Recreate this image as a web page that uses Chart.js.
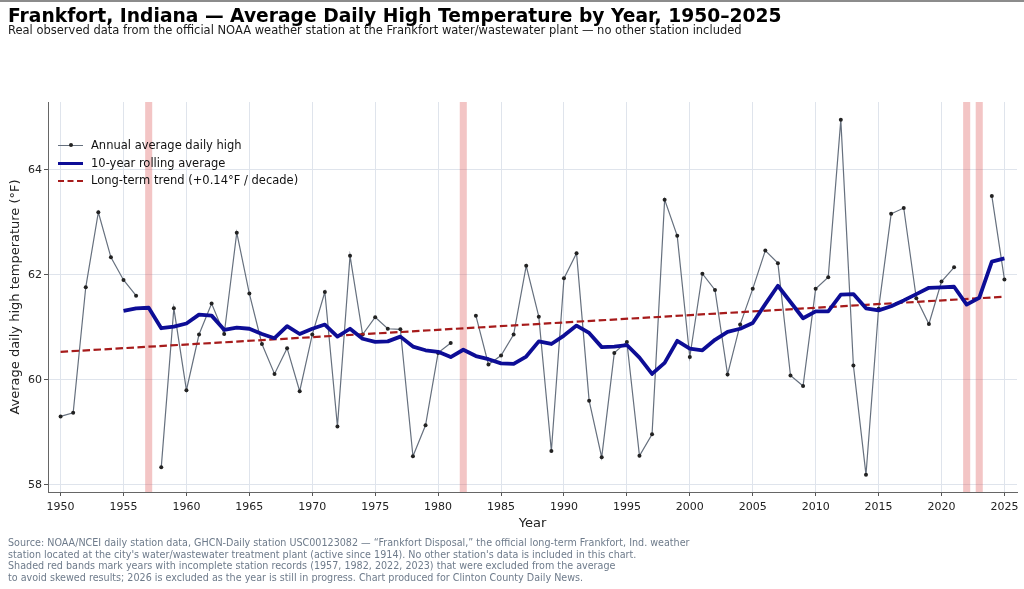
<!DOCTYPE html>
<html>
<head>
<meta charset="utf-8">
<script src="https://cdn.jsdelivr.net/npm/chart.js@4.4.1/dist/chart.umd.min.js"></script>
<style>
  html, body { margin: 0; padding: 0; background: #fff; }
  body { width: 1024px; height: 589px; position: relative; overflow: hidden; font-family: "DejaVu Sans", sans-serif; }
  #topline { position: absolute; left: 0; top: 0; width: 1024px; height: 2px; background: #8c8c8c; }
  #title { position: absolute; left: 8px; top: 5px; font-size: 18.7px; font-weight: bold; color: #000; white-space: nowrap; }
  #subtitle { position: absolute; left: 8px; top: 23px; font-size: 11.5px; color: #1a1a1a; white-space: nowrap; }
  #footer { position: absolute; left: 8px; top: 537px; font-size: 9.6px; line-height: 11.5px; color: #6e7b8b; white-space: nowrap; }
  #legend { position: absolute; left: 58px; top: 137px; font-size: 11.5px; color: #111; }
  .item { position: relative; height: 17.5px; line-height: 17px; padding-left: 33px; white-space: nowrap; }
  .sample { position: absolute; left: 0; top: 8px; width: 25px; }
  .s1 { border-top: 1.2px solid #66707e; }
  .s1 .dot { position: absolute; left: 11px; top: -3px; width: 4px; height: 4px; border-radius: 2px; background: #222; }
  .s2 { border-top: 3.8px solid #0d0d96; top: 7px; }
  .s3 { border-top: 2.2px dashed #a61b1b; }
  #chart { position: absolute; left: 0; top: 0; }
</style>
</head>
<body>
<div id="topline"></div>
<canvas id="chart" width="1024" height="589"></canvas>
<div id="title">Frankfort, Indiana — Average Daily High Temperature by Year, 1950–2025</div>
<div id="subtitle">Real observed data from the official NOAA weather station at the Frankfort water/wastewater plant — no other station included</div>
<div id="legend">
  <div class="item"><span class="sample s1"><span class="dot"></span></span>Annual average daily high</div>
  <div class="item"><span class="sample s2"></span>10-year rolling average</div>
  <div class="item"><span class="sample s3"></span>Long-term trend (+0.14°F / decade)</div>
</div>
<div id="footer">Source: NOAA/NCEI daily station data, GHCN-Daily station USC00123082 — “Frankfort Disposal,” the official long-term Frankfort, Ind. weather<br>station located at the city's water/wastewater treatment plant (active since 1914). No other station's data is included in this chart.<br>Shaded red bands mark years with incomplete station records (1957, 1982, 2022, 2023) that were excluded from the average<br>to avoid skewed results; 2026 is excluded as the year is still in progress. Chart produced for Clinton County Daily News.</div>
<script>
const years = Array.from({ length: 76 }, (_, i) => 1950 + i);

const annual = [
  59.30, 59.37, 61.76, 63.19, 62.33, 61.90, 61.60, null, 58.33, 61.36,
  59.80, 60.86, 61.45, 60.87, 62.80, 61.64, 60.68, 60.11, 60.60, 59.78,
  60.86, 61.67, 59.11, 62.36, 60.86, 61.19, 60.97, 60.96, 58.54, 59.13,
  60.51, 60.70, null, 61.22, 60.29, 60.46, 60.86, 62.17, 61.20, 58.64,
  61.93, 62.41, 59.60, 58.52, 60.51, 60.72, 58.55, 58.96, 63.43, 62.74,
  60.43, 62.02, 61.71, 60.10, 61.05, 61.73, 62.46, 62.22, 60.08, 59.88,
  61.73, 61.95, 64.95, 60.27, 58.19, 61.35, 63.16, 63.27, 61.55, 61.06,
  61.87, 62.14, null, null, 63.50, 61.91,
];

const rolling = [
  null, null, null, null, null, 61.31, 61.36, 61.37, 60.98, 61.01,
  61.07, 61.24, 61.22, 60.95, 60.99, 60.97, 60.87, 60.79, 61.02, 60.87,
  60.97, 61.05, 60.82, 60.97, 60.78, 60.72, 60.73, 60.82, 60.63, 60.56,
  60.53, 60.43, 60.57, 60.45, 60.39, 60.31, 60.30, 60.44, 60.73, 60.68,
  60.84, 61.03, 60.89, 60.62, 60.63, 60.66, 60.42, 60.11, 60.32, 60.74,
  60.59, 60.56, 60.76, 60.91, 60.97, 61.08, 61.44, 61.79, 61.48, 61.17,
  61.30, 61.30, 61.62, 61.63, 61.36, 61.32, 61.40, 61.51, 61.63, 61.75,
  61.76, 61.77, 61.43, 61.56, 62.25, 62.31,
];

const trendYears = [1950, 2025];
const trendValues = [60.53, 61.58];

const excludedYears = [1957, 1982, 2022, 2023];

const xTicks = [1950, 1955, 1960, 1965, 1970, 1975, 1980, 1985, 1990, 1995, 2000, 2005, 2010, 2015, 2020, 2025];
const yTicks = [58, 60, 62, 64];

// red bands behind the lines for the incomplete years
const bands = {
  id: "bands",
  beforeDatasetsDraw(chart) {
    const { ctx, chartArea, scales } = chart;
    ctx.save();
    ctx.fillStyle = "rgba(220, 90, 90, 0.35)";
    excludedYears.forEach((yr) => {
      const x1 = scales.x.getPixelForValue(yr - 0.28);
      const x2 = scales.x.getPixelForValue(yr + 0.28);
      ctx.fillRect(x1, chartArea.top, x2 - x1, chartArea.bottom - chartArea.top);
    });
    ctx.restore();
  },
};

const data = {
  datasets: [
    {
      label: "Long-term trend (+0.14°F / decade)",
      data: trendYears.map((yr, i) => ({ x: yr, y: trendValues[i] })),
      borderColor: "#a61b1b",
      borderWidth: 2.2,
      borderDash: [7.5, 3.5],
      pointRadius: 0,
      order: 2,
    },
    {
      label: "Annual average daily high",
      data: years.map((yr, i) => ({ x: yr, y: annual[i] })),
      borderColor: "#66707e",
      borderWidth: 1.2,
      pointRadius: 2,
      pointBackgroundColor: "#222",
      pointBorderWidth: 0,
      spanGaps: false,
      order: 3,
    },
    {
      label: "10-year rolling average",
      data: years.map((yr, i) => ({ x: yr, y: rolling[i] })),
      borderColor: "#0d0d96",
      borderWidth: 3.8,
      pointRadius: 0,
      borderJoinStyle: "round",
      order: 1,
    },
  ],
};

const config = {
  type: "line",
  data: data,
  plugins: [bands],
  options: {
    responsive: false,
    animation: false,
    devicePixelRatio: 1,
    layout: { padding: { top: 102, right: 7, bottom: 52, left: 0 } },
    plugins: { legend: { display: false }, tooltip: { enabled: false } },
    scales: {
      x: {
        type: "linear",
        min: 1949,
        max: 2026,
        afterBuildTicks: (s) => { s.ticks = xTicks.map((v) => ({ value: v })); },
        afterFit: (s) => { s.height = 45; },
        grid: { color: "#dfe4ec", tickLength: 4, tickColor: "#555" },
        border: { color: "#666" },
        ticks: { color: "#222", font: { family: "DejaVu Sans", size: 11 }, padding: 5, maxRotation: 0, callback: (v) => String(v) },
        title: { display: true, text: "Year", color: "#222", font: { family: "DejaVu Sans", size: 13 }, padding: { top: 2, bottom: 6 } },
      },
      y: {
        min: 57.86,
        max: 65.29,
        afterBuildTicks: (s) => { s.ticks = yTicks.map((v) => ({ value: v })); },
        afterFit: (s) => { s.width = 48; },
        grid: { color: "#dfe4ec", tickLength: 4, tickColor: "#555" },
        border: { color: "#666" },
        ticks: { color: "#222", font: { family: "DejaVu Sans", size: 11 }, padding: 2, callback: (v) => String(v) },
        title: { display: true, text: "Average daily high temperature (°F)", color: "#222", font: { family: "DejaVu Sans", size: 13 }, padding: { top: 8, bottom: 0 } },
      },
    },
  },
};

const chart = new Chart(document.getElementById("chart"), config);
</script>
</body>
</html>
